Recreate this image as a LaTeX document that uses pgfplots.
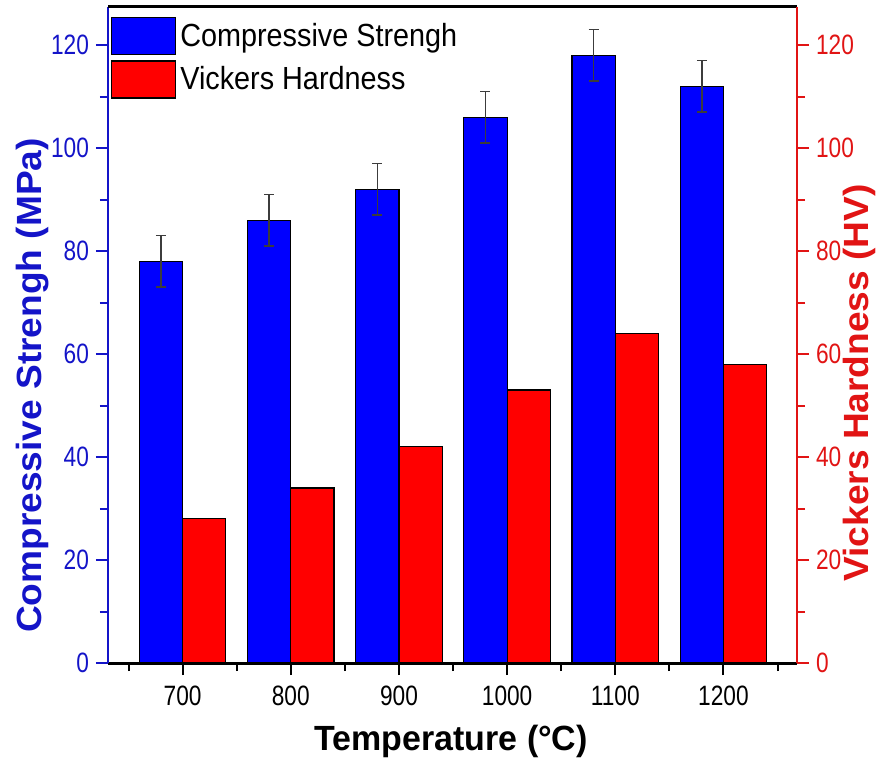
\documentclass[border=0pt]{standalone}
\usepackage{fontspec}
\setmainfont{Liberation Sans}[FakeStretch=0.81]
\newfontfamily\ylabfont{Liberation Sans}[FakeStretch=1.06]
\newfontfamily\xlabfont{Liberation Sans}[FakeStretch=0.97]
\newfontfamily\legfont{Liberation Sans}[FakeStretch=0.9]
\usepackage{pgfplots}
\usepackage{pgfplotstable}
\pgfplotsset{compat=1.18}
\definecolor{myblue}{RGB}{0,0,255}
\definecolor{myred}{RGB}{255,0,0}
\definecolor{axblue}{RGB}{20,20,200}
\definecolor{axred}{RGB}{225,20,20}
\definecolor{errgray}{RGB}{60,60,60}

\pgfplotstableread{
x cs err hv
700 78 5 28
800 86 5 34
900 92 5 42
1000 106 5 53
1100 118 5 64
1200 112 5 58
}\data

\begin{document}
\begin{tikzpicture}
\begin{axis}[
  scale only axis, width=344.5bp, height=328bp,
  xmin=631, xmax=1268, ymin=0, ymax=127.4,
  axis x line*=bottom, axis y line*=left,
  x axis line style={black, line width=1.5bp},
  y axis line style={axblue, line width=1bp},
  xtick={700,800,...,1200}, minor xtick={650,750,...,1250},
  ytick={0,20,...,120}, minor ytick={10,30,...,110},
  tick align=outside,
  major tick length=6bp, minor tick length=4bp,
  x tick style={black, line width=1bp},
  y tick style={axblue, line width=1bp},
  /pgf/number format/assume math mode=true,
  /pgf/number format/1000 sep={},
  tick label style={font=\fontsize{14bp}{16bp}\selectfont},
  yticklabel style={axblue},
  xticklabel style={black, yshift=-2bp},
  xlabel={Temperature (°C)},
  ylabel={Compressive Strengh (MPa)},
  xlabel style={font=\xlabfont\fontsize{17.5bp}{20bp}\selectfont\bfseries, at={(axis description cs:0.498,0)}, anchor=base, yshift=-43.5bp},
  ylabel style={font=\ylabfont\fontsize{17.5bp}{20bp}\selectfont\bfseries, axblue, at={(axis description cs:0,0.423)}, anchor=center, yshift=37.75bp},
  legend style={at={(rel axis cs:0.004,0.985)}, anchor=north west, draw=none, fill=none,
    font=\legfont\fontsize{16bp}{19bp}\selectfont, row sep=2.5bp, inner xsep=0pt, inner ysep=0pt},
  legend cell align=left,
]
\addplot[ybar, bar width=40, bar shift=0, fill=myblue, draw=black, line width=0.6bp,
  legend image code/.code={\draw[fill=myblue, draw=black, line width=0.6bp] (0bp,-9.25bp) rectangle (32bp,9.25bp);},
  error bars/.cd, y dir=both, y explicit,
  error bar style={errgray, line width=0.7bp},
  error mark options={rotate=90, errgray, line width=0.7bp, mark size=2.5bp}]
  table[x expr=\thisrow{x}-20, y=cs, y error=err] {\data};
\addlegendentry{Compressive Strengh}
\addplot[ybar, bar width=40, bar shift=0, fill=myred, draw=black, line width=0.6bp,
  legend image code/.code={\draw[fill=myred, draw=black, line width=0.6bp] (0bp,-9.25bp) rectangle (32bp,9.25bp);}]
  table[x expr=\thisrow{x}+20, y=hv] {\data};
\addlegendentry{Vickers Hardness}
\coordinate (sw) at (rel axis cs:0,0);
\coordinate (ne) at (rel axis cs:1,1);
\end{axis}
\begin{axis}[
  scale only axis, width=344.5bp, height=328bp,
  xmin=631, xmax=1268, ymin=0, ymax=127.4,
  axis x line*=top, axis y line*=right,
  x axis line style={black, line width=1.5bp},
  y axis line style={axred, line width=1bp},
  xtick=\empty,
  ytick={0,20,...,120}, minor ytick={10,30,...,110},
  tick align=outside,
  major tick length=6bp, minor tick length=4bp,
  y tick style={axred, line width=1bp},
  /pgf/number format/assume math mode=true,
  tick label style={font=\fontsize{14bp}{16bp}\selectfont},
  yticklabel style={axred},
  ylabel={Vickers Hardness (HV)},
  ylabel style={font=\ylabfont\fontsize{17.5bp}{20bp}\selectfont\bfseries, axred, at={(axis description cs:1,0.427)}, anchor=center, yshift=-31bp},
]
\addplot[draw=none, forget plot] coordinates {(700,0)};
\end{axis}
\pgfresetboundingbox
\useasboundingbox ([shift={(-54bp,-50.5bp)}]sw) rectangle ([shift={(47.5bp,3.5bp)}]ne);
\end{tikzpicture}
\end{document}
